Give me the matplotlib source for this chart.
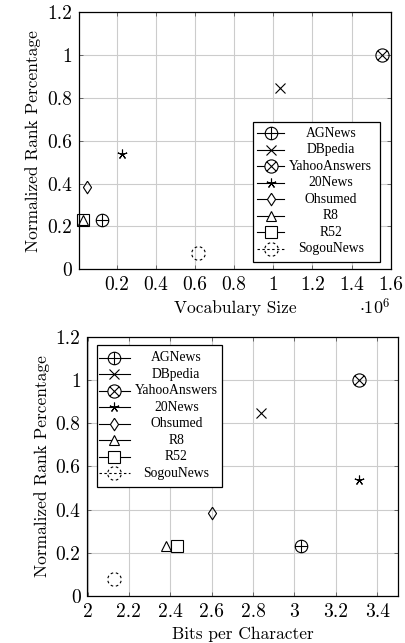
import numpy as np
import matplotlib
matplotlib.use("Agg")
import matplotlib.pyplot as plt
from matplotlib.path import Path
from matplotlib.patches import Rectangle
from matplotlib.ticker import FuncFormatter, MultipleLocator

plt.rcParams['font.family'] = ['cmr10', 'DejaVu Serif']
plt.rcParams['mathtext.fontset'] = 'cm'
plt.rcParams['axes.formatter.use_mathtext'] = True

# ---------------- data ----------------
datasets = ["AGNews", "DBpedia", "YahooAnswers", "20News", "Ohsumed", "R8", "R52", "SogouNews"]
rank_pct = [0.231, 0.846, 1.0, 0.538, 0.385, 0.231, 0.231, 0.077]
vocab_size = [0.126e6, 1.032e6, 1.554e6, 0.229e6, 0.048e6, 0.028e6, 0.026e6, 0.614e6]
bits_per_char = [3.03, 2.84, 3.31, 3.31, 2.60, 2.38, 2.43, 2.13]

# ---------------- markers ----------------
M, L = Path.MOVETO, Path.LINETO
circle = Path.unit_circle()
oplus = Path.make_compound_path(circle, Path([(-1, 0), (1, 0)], [M, L]), Path([(0, -1), (0, 1)], [M, L]))
d = np.sqrt(0.5)
otimes = Path.make_compound_path(circle, Path([(-d, -d), (d, d)], [M, L]), Path([(-d, d), (d, -d)], [M, L]))
diamond = Path([(0, 1), (0.65, 0), (0, -1), (-0.65, 0), (0, 1)], [M, L, L, L, L])
arcs = []
n = 8
for k in range(n):
    t1 = 360.0 / n * k + 11.25
    arcs.append(Path.arc(t1, t1 + 360.0 / n / 2))
dashed_circle = Path.make_compound_path(*arcs)

styles = [
    dict(marker=oplus, ms=9),
    dict(marker='x', ms=6.5),
    dict(marker=otimes, ms=9.5),
    dict(marker=(5, 2, 0), ms=7),
    dict(marker=diamond, ms=9),
    dict(marker='^', ms=7.5),
    dict(marker='s', ms=8.5),
    dict(marker=dashed_circle, ms=9.5),
]
legend_ls = ['-'] * 7 + [(0, (2.2, 2.2))]

W, H = 406, 643
fig = plt.figure(figsize=(W / 100, H / 100), dpi=100)


def fmt(v, pos):
    return f"{v:g}"


def setup(ax):
    ax.set_ylim(0, 1.2)
    ax.yaxis.set_major_locator(MultipleLocator(0.2))
    ax.xaxis.set_major_locator(MultipleLocator(0.2))
    ax.grid(True, color='#cccccc', lw=0.8)
    ax.set_axisbelow(True)
    ax.tick_params(direction='in', top=True, right=True, length=3, width=0.6,
                   labelsize=14, pad=5, color='#555555')
    for s in ax.spines.values():
        s.set_linewidth(0.9)
    ax.set_ylabel("Normalized Rank Percentage", fontsize=12.5)


def draw_points(ax, xs):
    for x, y, st in zip(xs, rank_pct, styles):
        ax.plot([x], [y], linestyle='none', marker=st['marker'], ms=st['ms'],
                mfc='none', mec='black', mew=0.8, clip_on=False, zorder=3)


def legend(ax, x0, x1, ytop, ybot, hx0, hx1, tx, ry0, rdy):
    ax.add_patch(Rectangle((x0, ybot), x1 - x0, ytop - ybot, transform=ax.transAxes,
                           facecolor='white', edgecolor='black', lw=0.9, zorder=5, clip_on=False))
    for i, (name, st) in enumerate(zip(datasets, styles)):
        y = ry0 - i * rdy
        ax.plot([hx0, hx1], [y, y], transform=ax.transAxes, color='black', lw=0.8,
                ls=legend_ls[i], zorder=6, clip_on=False)
        ax.plot([(hx0 + hx1) / 2], [y], transform=ax.transAxes, linestyle='none',
                marker=st['marker'], ms=st['ms'], mfc='white', mec='black', mew=0.8,
                zorder=7, clip_on=False)
        ax.text(tx, y, name, transform=ax.transAxes, ha='center', va='center',
                fontsize=9.8, family='Liberation Serif', zorder=8)


# ---------------- top: vocabulary size ----------------
ax1 = fig.add_axes([79 / W, 1 - 269.3 / H, 311.7 / W, 257 / H])
setup(ax1)
ax1.set_xlim(0.0072e6, 1.6e6)
ax1.xaxis.set_major_locator(MultipleLocator(0.2e6))
ax1.xaxis.set_major_formatter(FuncFormatter(lambda v, p: f"{v / 1e6:g}"))
ax1.yaxis.set_major_formatter(FuncFormatter(fmt))
ax1.set_xlabel("Vocabulary Size", fontsize=12.5, labelpad=4)
ax1.text(1.0, -0.148, r"$\cdot 10^{6}$", transform=ax1.transAxes, ha='right', va='center', fontsize=13)
draw_points(ax1, vocab_size)
legend(ax1, 0.557, 0.966, 0.574, 0.030, 0.572, 0.659, 0.808, 0.529, 0.0642)

# ---------------- bottom: bits per character ----------------
ax2 = fig.add_axes([87.5 / W, 1 - 596 / H, 310.5 / W, 259.3 / H])
setup(ax2)
ax2.set_xlim(2, 3.5)
ax2.xaxis.set_major_formatter(FuncFormatter(fmt))
ax2.yaxis.set_major_formatter(FuncFormatter(fmt))
ax2.set_xlabel("Bits per Character", fontsize=12.5, labelpad=4)
draw_points(ax2, bits_per_char)
legend(ax2, 0.031, 0.434, 0.968, 0.4215, 0.037, 0.136, 0.286, 0.919, 0.0636)

fig.savefig("out.png", dpi=100)
